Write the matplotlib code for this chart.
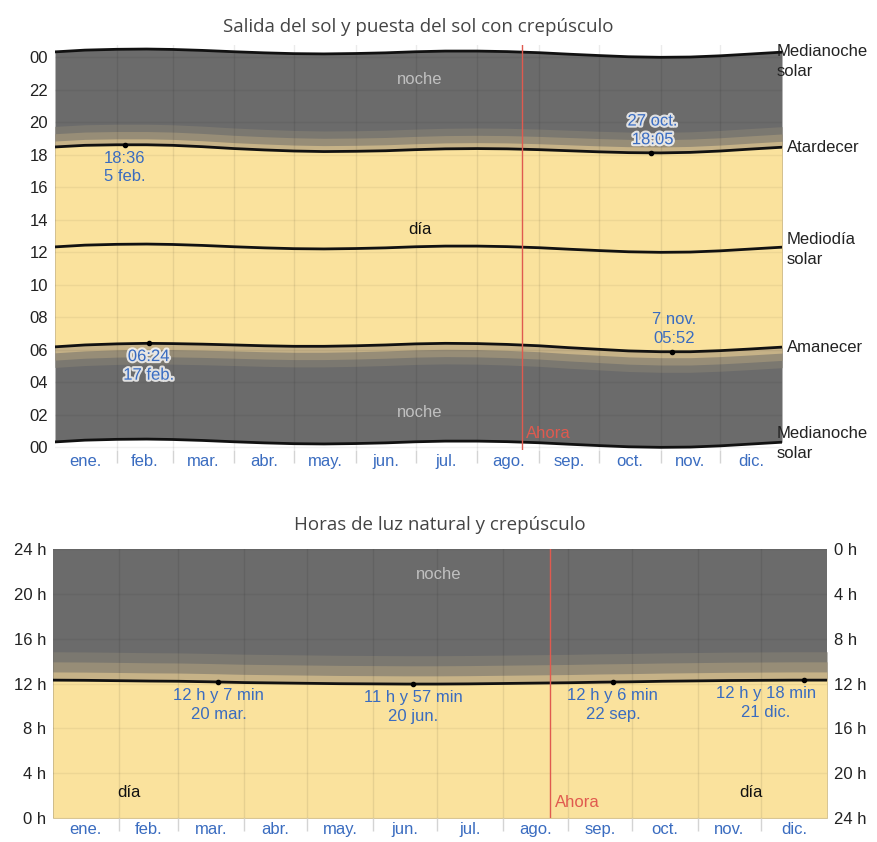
import numpy as np
import matplotlib
matplotlib.use("Agg")
import matplotlib.pyplot as plt
import matplotlib.patheffects as pe

# ---------------- data ----------------
days = [0, 15, 31, 46, 59, 74, 90, 105, 120, 135, 151, 166, 181,
        196, 212, 227, 243, 258, 273, 288, 304, 319, 334, 349, 365]
sunrise = ["06:10", "06:17", "06:21", "06:23", "06:22", "06:20", "06:17", "06:14",
           "06:12", "06:12", "06:14", "06:17", "06:21", "06:23", "06:22", "06:19",
           "06:14", "06:07", "06:01", "05:55", "05:52", "05:52", "05:56", "06:02", "06:09"]
sunset = ["18:28", "18:34", "18:36", "18:36", "18:34", "18:29", "18:22", "18:17",
          "18:13", "18:11", "18:12", "18:14", "18:18", "18:21", "18:22", "18:21",
          "18:18", "18:14", "18:10", "18:07", "18:06", "18:08", "18:13", "18:20", "18:27"]
civil_min = 22
nautical_min = 27
astro_min = 27

months = ["ene.", "feb.", "mar.", "abr.", "may.", "jun.", "jul.", "ago.",
          "sep.", "oct.", "nov.", "dic."]
month_starts = [0, 31, 59, 90, 120, 151, 181, 212, 243, 273, 304, 334, 365]

top_ticks = [0, 2, 4, 6, 8, 10, 12, 14, 16, 18, 20, 22, 24]
top_tick_labels = ["00", "02", "04", "06", "08", "10", "12", "14", "16", "18", "20", "22", "00"]
bottom_ticks = [0, 4, 8, 12, 16, 20, 24]
bottom_left_labels = ["0 h", "4 h", "8 h", "12 h", "16 h", "20 h", "24 h"]
bottom_right_labels = ["24 h", "20 h", "16 h", "12 h", "8 h", "4 h", "0 h"]

now_day = 234.5

# extreme sunrise / sunset annotations
ev_kind = ["sunset", "sunrise", "sunset", "sunrise"]
ev_day = [35, 47, 299, 310]
ev_time = ["18:36", "06:24", "18:05", "05:52"]
ev_date = ["5 feb.", "17 feb.", "27 oct.", "7 nov."]

# day length annotations
dl_day = [78, 170, 264, 354]
dl_hours = [12, 11, 12, 12]
dl_minutes = [7, 57, 6, 18]
dl_date = ["20 mar.", "20 jun.", "22 sep.", "21 dic."]

# ---------------- style ----------------
C_NIGHT = "#6b6b6b"
C_ASTRO = "#7b7870"
C_NAUT = "#978d77"
C_CIVIL = "#c6b287"
C_DAY = "#fae29d"
C_BLUE = "#3a6cc0"
C_RED = "#e05a4f"
FONT = ["Liberation Sans", "DejaVu Sans"]
plt.rcParams["font.family"] = FONT


def to_h(s):
    h, m = s.split(":")
    return int(h) + int(m) / 60.0


x = np.array(days, dtype=float)
sr = np.array([to_h(s) for s in sunrise])
ss = np.array([to_h(s) for s in sunset])
noon = (sr + ss) / 2
mid_lo = noon - 12
mid_hi = noon + 12
c, n, a = civil_min / 60, nautical_min / 60, astro_min / 60

W, H = 877, 842
fig = plt.figure(figsize=(W / 100, H / 100), dpi=100)


def px_axes(l, t, r, b):
    return fig.add_axes([l / W, 1 - b / H, (r - l) / W, (b - t) / H])


month_mid = [(month_starts[i] + month_starts[i + 1]) / 2 for i in range(12)]


def style_x(ax):
    ax.set_xlim(0, 365)
    ax.set_xticks(month_starts[1:-1])
    ax.set_xticklabels([])
    ax.tick_params(axis="x", which="major", length=9, color="#d4d4d4", width=1)
    ax.set_xticks(month_mid, minor=True)
    ax.set_xticklabels(months, minor=True, color=C_BLUE, fontsize=12)
    ax.tick_params(axis="x", which="minor", length=0, pad=3)
    for s in ax.spines.values():
        s.set_visible(False)


# ================= top panel =================
ax = px_axes(55, 45, 782, 450)
ax.set_ylim(-0.18, 24.74)
# nested fills (outer first) so bands have no seams
ax.fill_between(x, mid_lo, mid_hi, color=C_NIGHT, lw=0)
ax.fill_between(x, sr - c - n - a, ss + c + n + a, color=C_ASTRO, lw=0)
ax.fill_between(x, sr - c - n, ss + c + n, color=C_NAUT, lw=0)
ax.fill_between(x, sr - c, ss + c, color=C_CIVIL, lw=0)
ax.fill_between(x, sr, ss, color=C_DAY, lw=0)
for yv in [sr, ss, noon, mid_lo, mid_hi]:
    ax.plot(x, yv, color="#111111", lw=2, zorder=5)

for d in month_starts[1:-1]:
    ax.axvline(d, color="black", alpha=0.08, lw=1, zorder=3)
for t in top_ticks:
    ax.axhline(t, color="black", alpha=0.05, lw=1, zorder=3)

ax.set_yticks(top_ticks)
ax.set_yticklabels(top_tick_labels, fontsize=12, color="#222222")
ax.tick_params(axis="y", length=0, pad=5)
style_x(ax)

ax.axvline(now_day, color=C_RED, lw=1, zorder=6)
ax.text(now_day + 2, 0.85, "Ahora", color=C_RED, fontsize=12, va="center", ha="left", zorder=7)

ax.text(183, 22.6, "noche", color="#c0c0c0", fontsize=12, ha="center", va="center")
ax.text(183, 2.1, "noche", color="#c0c0c0", fontsize=12, ha="center", va="center")
ax.text(183, 13.4, "día", color="#111111", fontsize=12, ha="center", va="center")

halo = [pe.withStroke(linewidth=3, foreground="white", alpha=0.8)]
for k, d, t, dt in zip(ev_kind, ev_day, ev_time, ev_date):
    yv = to_h(t)
    ax.plot([d], [yv], "o", color="black", ms=3, zorder=8)
    if d < 100:
        ax.annotate(f"{t}\n{dt}", (d, yv), xytext=(0, -6), textcoords="offset pixels",
                    ha="center", va="top", color=C_BLUE, fontsize=12, linespacing=1.3,
                    zorder=9, path_effects=halo if k == "sunrise" else None)
    else:
        ax.annotate(f"{dt}\n{t}", (d, yv), xytext=(2, 6), textcoords="offset pixels",
                    ha="center", va="bottom", color=C_BLUE, fontsize=12, linespacing=1.3,
                    zorder=9, path_effects=halo if k == "sunset" else None)

lab_kw = dict(textcoords="offset pixels", fontsize=12, color="#222222",
              annotation_clip=False, ha="left", linespacing=1.4)
ax.annotate("Medianoche\nsolar", (365, mid_hi[-1]), xytext=(-5, 8), va="top", **lab_kw)
ax.annotate("Atardecer", (365, ss[-1]), xytext=(5, 0), va="center", **lab_kw)
ax.annotate("Mediodía\nsolar", (365, noon[-1]), xytext=(5, -2), va="center", **lab_kw)
ax.annotate("Amanecer", (365, sr[-1]), xytext=(5, 0), va="center", **lab_kw)
ax.annotate("Medianoche\nsolar", (365, mid_lo[-1]), xytext=(-5, -1), va="center", **lab_kw)

fig.text(418 / W, 1 - 27 / H, "Salida del sol y puesta del sol con crepúsculo",
         ha="center", va="center", fontsize=13.5, color="#444444",
         family=["Open Sans", "DejaVu Sans"])

# ================= bottom panel =================
bx = px_axes(53, 549, 827, 818)
bx.set_ylim(0, 24)
D = ss - sr
bx.fill_between(x, 0, 24, color=C_NIGHT, lw=0)
bx.fill_between(x, 0, D + 2 * (c + n + a), color=C_ASTRO, lw=0)
bx.fill_between(x, 0, D + 2 * (c + n), color=C_NAUT, lw=0)
bx.fill_between(x, 0, D + 2 * c, color=C_CIVIL, lw=0)
bx.fill_between(x, 0, D, color=C_DAY, lw=0)
bx.plot(x, D, color="#111111", lw=2, zorder=5)

for d in month_starts[1:-1]:
    bx.axvline(d, color="black", alpha=0.08, lw=1, zorder=3)
for t in bottom_ticks:
    bx.axhline(t, color="black", alpha=0.05, lw=1, zorder=3)

bx.set_yticks(bottom_ticks)
bx.set_yticklabels(bottom_left_labels, fontsize=12, color="#222222")
bx.tick_params(axis="y", length=0, pad=5)
style_x(bx)

bx2 = bx.twinx()
bx2.set_ylim(0, 24)
bx2.set_yticks(bottom_ticks)
bx2.set_yticklabels(bottom_right_labels, fontsize=12, color="#222222")
bx2.tick_params(axis="y", length=0, pad=5)
for s in bx2.spines.values():
    s.set_visible(False)

bx.axvline(now_day, color=C_RED, lw=1, zorder=6)
bx.text(now_day + 2, 1.4, "Ahora", color=C_RED, fontsize=12, va="center", ha="left", zorder=7)
bx.text(182, 21.7, "noche", color="#c0c0c0", fontsize=12, ha="center", va="center")
bx.text(36, 2.3, "día", color="#111111", fontsize=12, ha="center", va="center")
bx.text(329, 2.3, "día", color="#111111", fontsize=12, ha="center", va="center")

for d, hh, mm, dt in zip(dl_day, dl_hours, dl_minutes, dl_date):
    yv = hh + mm / 60
    bx.plot([d], [yv], "o", color="black", ms=3, zorder=8)
    dx = -38 if d > 340 else 0
    bx.annotate(f"{hh} h y {mm} min\n{dt}", (d, yv), xytext=(dx, -6), textcoords="offset pixels",
                ha="center", va="top", color=C_BLUE, fontsize=12, linespacing=1.3, zorder=9)

fig.text(440 / W, 1 - 525 / H, "Horas de luz natural y crepúsculo",
         ha="center", va="center", fontsize=13.5, color="#444444",
         family=["Open Sans", "DejaVu Sans"])

fig.savefig("out.png", dpi=100)
